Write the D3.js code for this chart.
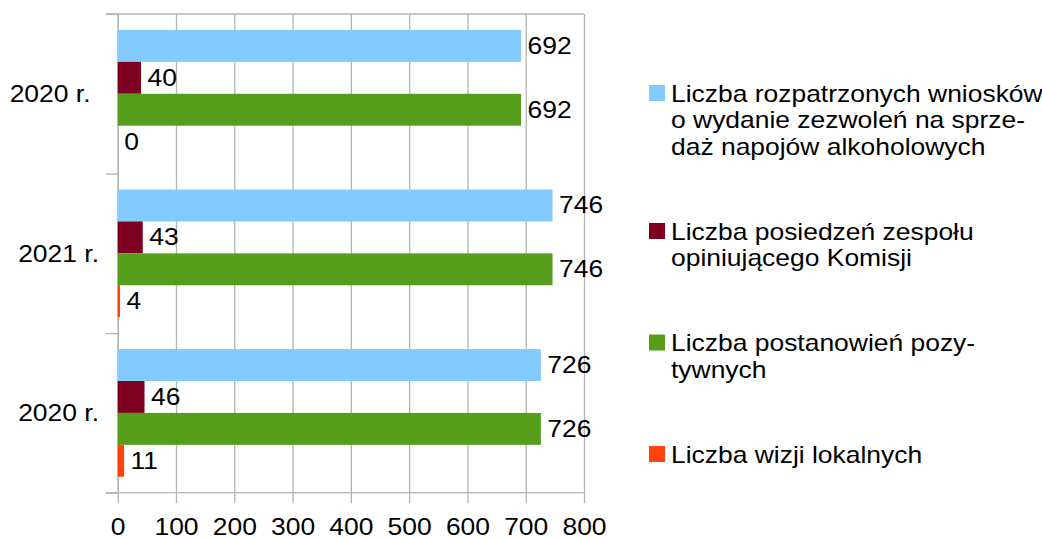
<!DOCTYPE html>
<html>
<head>
<meta charset="utf-8">
<script src="https://cdn.jsdelivr.net/npm/d3@7/dist/d3.min.js"></script>
<style>
  body { margin: 0; background: #fff; }
  svg { display: block; }
  text { font-family: "Liberation Sans", Arial, sans-serif; fill: #000; }
</style>
</head>
<body>
<svg></svg>
<script>
// data
let years = ["2020 r.", "2021 r.", "2020 r."]
let wnioski = [692, 746, 726]
let posiedzenia = [40, 43, 46]
let postanowienia = [692, 746, 726]
let wizje = [0, 4, 11]
let seriesNames = [
  ["Liczba rozpatrzonych wniosków", "o wydanie zezwoleń na sprze-", "daż napojów alkoholowych"],
  ["Liczba posiedzeń zespołu", "opiniującego Komisji"],
  ["Liczba postanowień pozy-", "tywnych"],
  ["Liczba wizji lokalnych"]
]
let colors = ["#83caff", "#7e0021", "#579d1c", "#ff420e"]
let xTicks = [0, 100, 200, 300, 400, 500, 600, 700, 800]

let series = [wnioski, posiedzenia, postanowienia, wizje]

let w = 1042
let h = 538
let pLeft = 117.7
let pRight = 584
let pTop = 14
let pBottom = 492.7
let fs = 23
let sx = 1.15   // text in the original is a bit wider
let grid = "#b3b3b3"
let labelRight = [88.5, 97, 97]  // category labels are not aligned the same way

let svg = d3.select("svg").attr("width", w).attr("height", h)

let xScale = d3.scaleLinear().domain([0, 800]).range([pLeft, pRight])
let yScale = d3.scaleBand()
               .domain(d3.range(years.length))
               .range([pTop, pBottom])
               .paddingInner(0.2)
               .paddingOuter(0.1)
let ySub = d3.scaleBand()
             .domain(d3.range(series.length))
             .range([0, yScale.bandwidth()])
let yEdges = d3.scaleLinear().domain([0, years.length]).range([pTop, pBottom])

let stretch = (sel) => sel.each(function () {
  let t = d3.select(this)
  let x = +t.attr("x") || 0
  let y = +t.attr("y") || 0
  t.attr("x", 0).attr("y", 0)
   .attr("transform", "translate(" + x + "," + y + ") scale(" + sx + ",1)")
})

// gridlines
svg.append("g")
   .attr("transform", "translate(0," + pBottom + ")")
   .call(d3.axisBottom(xScale).tickValues(xTicks).tickSize(-(pBottom - pTop)).tickFormat(""))
   .call(g => g.select(".domain").remove())
   .call(g => g.selectAll("line").attr("stroke", grid).attr("stroke-width", 1.3))

// frame top
svg.append("line").attr("x1", pLeft - 12).attr("x2", pRight).attr("y1", pTop).attr("y2", pTop)
   .attr("stroke", grid).attr("stroke-width", 1.3)

// x axis
let xAxis = svg.append("g")
   .attr("transform", "translate(0," + pBottom + ")")
   .call(d3.axisBottom(xScale).tickValues(xTicks).tickSize(10.5).tickSizeOuter(0))
xAxis.select(".domain").attr("stroke", grid).attr("stroke-width", 1.3)
     .attr("d", "M" + (pLeft - 12) + ",0H" + pRight)
xAxis.selectAll("line").attr("stroke", grid).attr("stroke-width", 1.3)
xAxis.attr("font-family", null).attr("font-size", fs)
xAxis.selectAll("text").attr("y", 42).attr("dy", null).call(stretch)

// y axis (ticks on group edges)
let yAxis = svg.append("g")
   .attr("transform", "translate(" + pLeft + ",0)")
   .call(d3.axisLeft(yEdges).tickValues(d3.range(years.length + 1)).tickSize(12).tickSizeOuter(0).tickFormat(""))
yAxis.selectAll("line").attr("stroke", grid).attr("stroke-width", 1.3)
yAxis.select(".domain").attr("stroke", grid).attr("stroke-width", 1.3)

svg.append("g")
   .selectAll("text")
   .data(years)
   .enter()
   .append("text")
   .attr("font-size", fs)
   .attr("text-anchor", "end")
   .attr("x", (d, i) => labelRight[i] + 2)
   .attr("y", (d, i) => yScale(i) + yScale.bandwidth() / 2 + 8.5)
   .text(d => d)
   .call(stretch)

// bars
let groups = svg.append("g")
   .selectAll("g")
   .data(years)
   .enter()
   .append("g")
   .attr("transform", (d, i) => "translate(0," + yScale(i) + ")")

groups.selectAll("rect")
   .data((d, i) => series.map((s, k) => ({ k: k, v: s[i] })))
   .enter()
   .append("rect")
   .attr("x", xScale(0))
   .attr("y", d => ySub(d.k))
   .attr("width", d => xScale(d.v) - xScale(0))
   .attr("height", ySub.bandwidth())
   .attr("fill", d => colors[d.k])

groups.selectAll("text")
   .data((d, i) => series.map((s, k) => ({ k: k, v: s[i] })))
   .enter()
   .append("text")
   .attr("font-size", fs)
   .attr("x", d => xScale(d.v) + 6.5)
   .attr("y", d => ySub(d.k) + ySub.bandwidth() / 2 + 8)
   .text(d => d.v)
   .call(stretch)

// legend
let lh = 26.5
let gap = 58.5
let entryTop = 85
let legend = svg.append("g")
seriesNames.forEach((lines, i) => {
  legend.append("rect")
        .attr("x", 649).attr("y", entryTop)
        .attr("width", 16).attr("height", 16)
        .attr("fill", colors[i])
  lines.forEach((ln, j) => {
    legend.append("text")
          .attr("font-size", fs)
          .attr("x", 671)
          .attr("y", entryTop + 16.7 + j * lh)
          .text(ln)
          .call(stretch)
  })
  entryTop += lines.length * lh + gap
})
</script>
</body>
</html>
